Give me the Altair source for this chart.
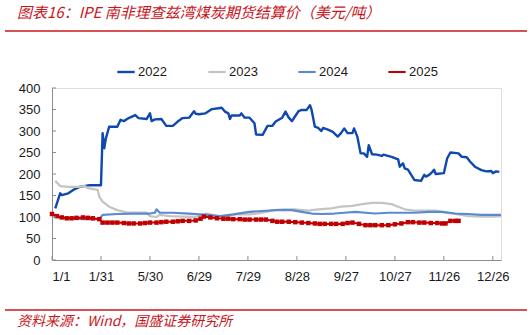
import altair as alt
import pandas as pd

# ---------------- data ----------------
years = ["2022", "2023", "2024", "2025"]
colors = ["#0f49ad", "#c4c4c4", "#5a8ad0", "#c00000"]
widths = [2.4, 2.0, 2.0, 3.0]

tick_idx = [0, 30, 60, 90, 120, 150, 180, 210, 240, 270]
tick_labels = ["1/1", "1/31", "5/30", "6/29", "7/29", "8/28", "9/27", "10/27", "11/26", "12/26"]
y_ticks = [0, 50, 100, 150, 200, 250, 300, 350, 400]

x2022 = [2, 5, 6, 10, 13, 17, 23, 30, 31, 32,
         33, 35, 40, 42, 44, 47, 51, 53, 58, 60,
         61, 63, 67, 70, 74, 77, 80, 84, 87, 88,
         90, 94, 98, 102, 104, 106, 108, 109, 110, 115,
         116, 118, 121, 124, 125, 129, 132, 135, 137, 141,
         143, 145, 147, 148, 151, 153, 156, 158, 159, 161,
         163, 165, 166, 169, 172, 175, 177, 179, 181, 184,
         185, 187, 189, 191, 193, 194, 196, 199, 202, 203,
         208, 210, 212, 213, 215, 216, 218, 220, 222, 226,
         228, 229, 231, 233, 234, 235, 240, 242, 244, 249,
         251, 254, 256, 259, 263, 266, 269, 270, 272, 274]
v2022 = [120, 155, 151, 155, 163, 170, 174, 174, 295, 260,
         283, 310, 310, 326, 323, 330, 337, 330, 328, 341,
         323, 327, 328, 312, 312, 322, 330, 331, 346, 340,
         339, 341, 351, 353, 354, 345, 341, 328, 336, 336,
         341, 331, 331, 318, 292, 291, 312, 312, 322, 331,
         345, 331, 323, 329, 346, 349, 349, 360, 349, 310,
         307, 300, 307, 303, 298, 287, 295, 306, 295, 295,
         306, 287, 248, 248, 240, 267, 246, 245, 242, 245,
         240, 237, 234, 217, 225, 213, 210, 198, 186, 184,
         198, 194, 198, 205, 210, 200, 202, 236, 250, 248,
         240, 239, 229, 217, 209, 206, 207, 202, 206, 205]

x2023 = [2, 5, 10, 16, 20, 22, 28, 29, 31, 35,
         40, 46, 52, 58, 60, 64, 66, 72, 80, 88,
         95, 101, 105, 113, 121, 129, 136, 142, 149, 157,
         163, 171, 177, 184, 190, 196, 202, 208, 212, 216,
         222, 228, 235, 241, 247, 255, 263, 271, 275]
v2023 = [184, 172, 170, 170, 172, 167, 163, 147, 136, 124,
         116, 110, 110, 110, 102, 100, 105, 102, 101, 100,
         108, 102, 102, 106, 106, 110, 116, 118, 118, 115,
         118, 120, 124, 126, 130, 133, 133, 130, 124, 118,
         115, 115, 115, 110, 107, 102, 101, 101, 102]

x2024 = [1, 9, 19, 29, 31, 40, 50, 60, 63, 64,
         66, 74, 84, 95, 103, 111, 121, 129, 137, 147,
         153, 159, 165, 173, 179, 186, 192, 198, 206, 214,
         222, 231, 239, 247, 255, 263, 275]
v2024 = [101, 97, 95, 95, 105, 107, 108, 108, 110, 118,
         110, 110, 108, 105, 102, 106, 112, 114, 116, 116,
         112, 108, 107, 108, 110, 112, 110, 108, 110, 110,
         110, 112, 112, 108, 107, 105, 105]

x2025 = [0, 3, 6, 9, 12, 15, 19, 22, 25, 29,
         31, 34, 37, 40, 44, 47, 50, 54, 57, 60,
         64, 67, 70, 74, 77, 80, 84, 88, 91, 93,
         97, 101, 105, 108, 111, 115, 118, 121, 125, 128,
         131, 135, 138, 141, 145, 149, 153, 157, 161, 164,
         167, 171, 174, 178, 181, 184, 188, 192, 195, 198,
         202, 206, 210, 214, 218, 221, 225, 228, 232, 236,
         239, 241, 244, 247, 249]
v2025 = [107, 102, 99, 97, 97, 98, 99, 98, 97, 95,
         87, 87, 87, 87, 86, 85, 85, 85, 86, 87,
         87, 88, 89, 89, 90, 91, 91, 92, 96, 101,
         99, 97, 96, 96, 95, 95, 94, 94, 94, 94,
         94, 91, 89, 89, 89, 88, 87, 86, 85, 84,
         84, 84, 84, 84, 86, 87, 84, 81, 81, 81,
         81, 81, 83, 85, 88, 88, 87, 87, 86, 86,
         85, 85, 91, 91, 91]

title_text = "图表16：IPE 南非理查兹湾煤炭期货结算价（美元/吨）"
source_text = "资料来源：Wind，国盛证券研究所"

# ---------------- build table ----------------
frames = []
for yr, xs_, vs_ in [("2022", x2022, v2022), ("2023", x2023, v2023),
                     ("2024", x2024, v2024), ("2025", x2025, v2025)]:
    frames.append(pd.DataFrame({"idx": xs_, "val": vs_, "year": yr}))
df = pd.concat(frames, ignore_index=True)

W, H = 449, 172
AX = "#8c8c8c"
red = "#c8161d"
label_expr = "[" + ",".join("'%s'" % t for t in tick_labels) + "][round(datum.value/30)]"

xs = alt.Scale(domain=[0, 275], nice=False, zero=False)
ys = alt.Scale(domain=[0, 400], nice=False)

x_axis = alt.Axis(values=tick_idx, labelExpr=label_expr, tickSize=0, grid=False,
                  domainColor=AX, labelFont="Liberation Sans", labelFontSize=13,
                  labelColor="#1a1a1a", labelPadding=10, labelOverlap=False)
y_axis = alt.Axis(values=y_ticks, tickSize=0, grid=False, domainColor=AX,
                  labelFont="Liberation Sans", labelFontSize=13,
                  labelColor="#1a1a1a", labelPadding=12, labelOverlap=False)

X = lambda f: alt.X(f, scale=xs, title=None, axis=x_axis)
Y = lambda f: alt.Y(f, scale=ys, title=None, axis=y_axis)

lines = alt.Chart(df).mark_line(strokeJoin="round").encode(
    x=X("idx:Q"),
    y=Y("val:Q"),
    color=alt.Color("year:N", scale=alt.Scale(domain=years, range=colors),
                    legend=alt.Legend(orient="none", legendX=64, legendY=-26,
                                      direction="horizontal", title=None,
                                      symbolType="stroke", symbolSize=300,
                                      symbolStrokeWidth=2.5, labelFontSize=13,
                                      labelFont="Liberation Sans", labelColor="#1a1a1a",
                                      labelOffset=2, columnPadding=36)),
    strokeWidth=alt.StrokeWidth("year:N", scale=alt.Scale(domain=years, range=widths),
                                legend=None),
    detail="year:N",
)

pts = alt.Chart(df[df["year"] == "2025"]).mark_square(size=20, color="#c00000", opacity=1).encode(
    x=X("idx:Q"),
    y=Y("val:Q"),
)

yt = alt.Chart(pd.DataFrame({"val": y_ticks})).mark_rule(color=AX).encode(
    y=Y("val:Q"), x=alt.value(0), x2=alt.value(4))
xt = alt.Chart(pd.DataFrame({"idx": tick_idx})).mark_rule(color=AX).encode(
    x=X("idx:Q"), y=alt.value(H), y2=alt.value(H - 4))

one = pd.DataFrame({"a": [0]})
title = alt.Chart(one).mark_text(align="left", baseline="middle", font="Noto Sans CJK SC",
                                 fontStyle="italic", fontSize=15, color=red).encode(
    x=alt.value(-35), y=alt.value(-75), text=alt.value(title_text))
source = alt.Chart(one).mark_text(align="left", baseline="middle", font="Noto Sans CJK SC",
                                  fontStyle="italic", fontSize=14, color=red).encode(
    x=alt.value(-35), y=alt.value(234), text=alt.value(source_text))
rule_top = alt.Chart(one).mark_rule(color=red, strokeWidth=1.5).encode(
    x=alt.value(-47), x2=alt.value(475), y=alt.value(-57))
rule_bot = alt.Chart(one).mark_rule(color=red, strokeWidth=1.5).encode(
    x=alt.value(-47), x2=alt.value(475), y=alt.value(222))

chart = alt.layer(lines, pts, yt, xt, title, source, rule_top, rule_bot).properties(
    width=W, height=H,
    autosize=alt.AutoSizeParams(type="none"),
    padding={"left": 52, "top": 88, "right": 31, "bottom": 75},
).configure_view(stroke=None).configure(background="white")

chart.save("out.html", embed_options={"renderer": "svg", "actions": False})
